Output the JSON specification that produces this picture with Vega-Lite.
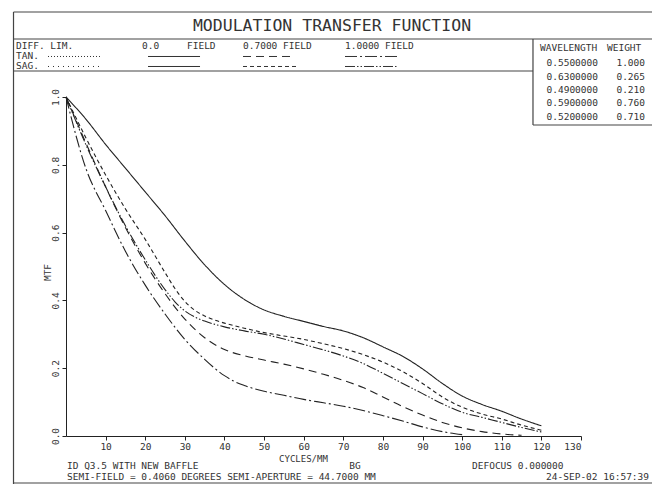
{
  "$schema": "https://vega.github.io/schema/vega-lite/v6.json",
  "width": 515,
  "height": 339,
  "autosize": {"type": "none"},
  "padding": {"left": 66, "top": 97, "right": 71, "bottom": 49},
  "background": "white",
  "config": {"view": {"stroke": null}, "font": "DejaVu Sans Mono"},
  "datasets": {
    "curves": [
      {"series": "0.0 FIELD", "f": 0, "mtf": 1.0}, {"series": "0.0 FIELD", "f": 5, "mtf": 0.935}, {"series": "0.0 FIELD", "f": 10, "mtf": 0.86}, {"series": "0.0 FIELD", "f": 15, "mtf": 0.79}, {"series": "0.0 FIELD", "f": 20, "mtf": 0.72}, {"series": "0.0 FIELD", "f": 25, "mtf": 0.65}, {"series": "0.0 FIELD", "f": 30, "mtf": 0.575}, {"series": "0.0 FIELD", "f": 35, "mtf": 0.505}, {"series": "0.0 FIELD", "f": 40, "mtf": 0.447}, {"series": "0.0 FIELD", "f": 45, "mtf": 0.403}, {"series": "0.0 FIELD", "f": 50, "mtf": 0.372}, {"series": "0.0 FIELD", "f": 55, "mtf": 0.353}, {"series": "0.0 FIELD", "f": 60, "mtf": 0.338}, {"series": "0.0 FIELD", "f": 65, "mtf": 0.323}, {"series": "0.0 FIELD", "f": 70, "mtf": 0.31}, {"series": "0.0 FIELD", "f": 75, "mtf": 0.29}, {"series": "0.0 FIELD", "f": 80, "mtf": 0.263}, {"series": "0.0 FIELD", "f": 85, "mtf": 0.235}, {"series": "0.0 FIELD", "f": 90, "mtf": 0.198}, {"series": "0.0 FIELD", "f": 95, "mtf": 0.155}, {"series": "0.0 FIELD", "f": 100, "mtf": 0.118}, {"series": "0.0 FIELD", "f": 105, "mtf": 0.093}, {"series": "0.0 FIELD", "f": 110, "mtf": 0.073}, {"series": "0.0 FIELD", "f": 115, "mtf": 0.05}, {"series": "0.0 FIELD", "f": 120, "mtf": 0.03},

      {"series": "0.7 SAG", "f": 0, "mtf": 1.0}, {"series": "0.7 SAG", "f": 5, "mtf": 0.88}, {"series": "0.7 SAG", "f": 10, "mtf": 0.77}, {"series": "0.7 SAG", "f": 15, "mtf": 0.67}, {"series": "0.7 SAG", "f": 20, "mtf": 0.58}, {"series": "0.7 SAG", "f": 25, "mtf": 0.482}, {"series": "0.7 SAG", "f": 27.5, "mtf": 0.435}, {"series": "0.7 SAG", "f": 30, "mtf": 0.397}, {"series": "0.7 SAG", "f": 32.5, "mtf": 0.371}, {"series": "0.7 SAG", "f": 35, "mtf": 0.354}, {"series": "0.7 SAG", "f": 37.5, "mtf": 0.342}, {"series": "0.7 SAG", "f": 40, "mtf": 0.333}, {"series": "0.7 SAG", "f": 45, "mtf": 0.318}, {"series": "0.7 SAG", "f": 50, "mtf": 0.305}, {"series": "0.7 SAG", "f": 55, "mtf": 0.295}, {"series": "0.7 SAG", "f": 60, "mtf": 0.285}, {"series": "0.7 SAG", "f": 65, "mtf": 0.272}, {"series": "0.7 SAG", "f": 70, "mtf": 0.258}, {"series": "0.7 SAG", "f": 75, "mtf": 0.24}, {"series": "0.7 SAG", "f": 80, "mtf": 0.218}, {"series": "0.7 SAG", "f": 85, "mtf": 0.19}, {"series": "0.7 SAG", "f": 90, "mtf": 0.155}, {"series": "0.7 SAG", "f": 95, "mtf": 0.115}, {"series": "0.7 SAG", "f": 100, "mtf": 0.085}, {"series": "0.7 SAG", "f": 105, "mtf": 0.065}, {"series": "0.7 SAG", "f": 110, "mtf": 0.05}, {"series": "0.7 SAG", "f": 115, "mtf": 0.032}, {"series": "0.7 SAG", "f": 120, "mtf": 0.017},

      {"series": "1.0 SAG", "f": 0, "mtf": 1.0}, {"series": "1.0 SAG", "f": 5, "mtf": 0.86}, {"series": "1.0 SAG", "f": 10, "mtf": 0.735}, {"series": "1.0 SAG", "f": 15, "mtf": 0.62}, {"series": "1.0 SAG", "f": 20, "mtf": 0.52}, {"series": "1.0 SAG", "f": 25, "mtf": 0.432}, {"series": "1.0 SAG", "f": 27.5, "mtf": 0.396}, {"series": "1.0 SAG", "f": 30, "mtf": 0.369}, {"series": "1.0 SAG", "f": 32.5, "mtf": 0.351}, {"series": "1.0 SAG", "f": 35, "mtf": 0.339}, {"series": "1.0 SAG", "f": 40, "mtf": 0.322}, {"series": "1.0 SAG", "f": 45, "mtf": 0.31}, {"series": "1.0 SAG", "f": 50, "mtf": 0.3}, {"series": "1.0 SAG", "f": 55, "mtf": 0.286}, {"series": "1.0 SAG", "f": 60, "mtf": 0.27}, {"series": "1.0 SAG", "f": 65, "mtf": 0.254}, {"series": "1.0 SAG", "f": 70, "mtf": 0.236}, {"series": "1.0 SAG", "f": 75, "mtf": 0.214}, {"series": "1.0 SAG", "f": 80, "mtf": 0.185}, {"series": "1.0 SAG", "f": 85, "mtf": 0.155}, {"series": "1.0 SAG", "f": 90, "mtf": 0.125}, {"series": "1.0 SAG", "f": 95, "mtf": 0.095}, {"series": "1.0 SAG", "f": 100, "mtf": 0.07}, {"series": "1.0 SAG", "f": 105, "mtf": 0.055}, {"series": "1.0 SAG", "f": 110, "mtf": 0.04}, {"series": "1.0 SAG", "f": 115, "mtf": 0.025}, {"series": "1.0 SAG", "f": 120, "mtf": 0.012},

      {"series": "0.7 TAN", "f": 0, "mtf": 1.0}, {"series": "0.7 TAN", "f": 5, "mtf": 0.865}, {"series": "0.7 TAN", "f": 10, "mtf": 0.735}, {"series": "0.7 TAN", "f": 15, "mtf": 0.615}, {"series": "0.7 TAN", "f": 20, "mtf": 0.51}, {"series": "0.7 TAN", "f": 25, "mtf": 0.42}, {"series": "0.7 TAN", "f": 30, "mtf": 0.345}, {"series": "0.7 TAN", "f": 35, "mtf": 0.29}, {"series": "0.7 TAN", "f": 40, "mtf": 0.255}, {"series": "0.7 TAN", "f": 45, "mtf": 0.237}, {"series": "0.7 TAN", "f": 50, "mtf": 0.224}, {"series": "0.7 TAN", "f": 55, "mtf": 0.212}, {"series": "0.7 TAN", "f": 60, "mtf": 0.198}, {"series": "0.7 TAN", "f": 65, "mtf": 0.182}, {"series": "0.7 TAN", "f": 70, "mtf": 0.164}, {"series": "0.7 TAN", "f": 75, "mtf": 0.143}, {"series": "0.7 TAN", "f": 80, "mtf": 0.115}, {"series": "0.7 TAN", "f": 85, "mtf": 0.087}, {"series": "0.7 TAN", "f": 90, "mtf": 0.062}, {"series": "0.7 TAN", "f": 95, "mtf": 0.04}, {"series": "0.7 TAN", "f": 100, "mtf": 0.024}, {"series": "0.7 TAN", "f": 105, "mtf": 0.013}, {"series": "0.7 TAN", "f": 110, "mtf": 0.006}, {"series": "0.7 TAN", "f": 115, "mtf": 0.002},

      {"series": "1.0 TAN", "f": 0, "mtf": 1.0}, {"series": "1.0 TAN", "f": 5, "mtf": 0.79}, {"series": "1.0 TAN", "f": 10, "mtf": 0.665}, {"series": "1.0 TAN", "f": 15, "mtf": 0.545}, {"series": "1.0 TAN", "f": 20, "mtf": 0.445}, {"series": "1.0 TAN", "f": 25, "mtf": 0.36}, {"series": "1.0 TAN", "f": 30, "mtf": 0.285}, {"series": "1.0 TAN", "f": 35, "mtf": 0.226}, {"series": "1.0 TAN", "f": 37.5, "mtf": 0.2}, {"series": "1.0 TAN", "f": 40, "mtf": 0.178}, {"series": "1.0 TAN", "f": 42.5, "mtf": 0.161}, {"series": "1.0 TAN", "f": 45, "mtf": 0.149}, {"series": "1.0 TAN", "f": 50, "mtf": 0.132}, {"series": "1.0 TAN", "f": 55, "mtf": 0.12}, {"series": "1.0 TAN", "f": 60, "mtf": 0.108}, {"series": "1.0 TAN", "f": 65, "mtf": 0.098}, {"series": "1.0 TAN", "f": 70, "mtf": 0.088}, {"series": "1.0 TAN", "f": 75, "mtf": 0.075}, {"series": "1.0 TAN", "f": 80, "mtf": 0.06}, {"series": "1.0 TAN", "f": 85, "mtf": 0.044}, {"series": "1.0 TAN", "f": 90, "mtf": 0.027}, {"series": "1.0 TAN", "f": 95, "mtf": 0.013}, {"series": "1.0 TAN", "f": 100, "mtf": 0.004}
    ],
    "frame": [
      {"x1": -13.25, "x2": 148.2, "y1": 1.2507, "y2": 1.2507},
      {"x1": -13.25, "x2": -13.25, "y1": 1.2507, "y2": -0.1416},
      {"x1": -13.25, "x2": 148.2, "y1": 1.1711, "y2": 1.1711},
      {"x1": -13.25, "x2": 117.88, "y1": 1.0767, "y2": 1.0767},
      {"x1": 117.88, "x2": 117.88, "y1": 1.1711, "y2": 0.9174},
      {"x1": 117.88, "x2": 148.2, "y1": 0.9174, "y2": 0.9174},
      {"x1": -13.25, "x2": 148.2, "y1": -0.1386, "y2": -0.1386}
    ],
    "legend": [
      {"series": "TAN DOT", "x1": -4.54, "x2": 8.58, "y": 1.1195},
      {"series": "0.0 FIELD", "x1": 20.7, "x2": 33.83, "y": 1.1195},
      {"series": "0.7 TAN", "x1": 44.68, "x2": 57.3, "y": 1.1195},
      {"series": "1.0 TAN", "x1": 70.43, "x2": 83.81, "y": 1.1195},
      {"series": "SAG DOT", "x1": -4.54, "x2": 8.58, "y": 1.09},
      {"series": "0.0 FIELD", "x1": 20.7, "x2": 33.83, "y": 1.09},
      {"series": "0.7 SAG", "x1": 44.68, "x2": 58.56, "y": 1.09},
      {"series": "1.0 SAG", "x1": 70.43, "x2": 83.81, "y": 1.09}
    ],
    "labels": [
      {"group": "title", "text": "MODULATION TRANSFER FUNCTION", "x": 67.15, "y": 1.2094},
      {"group": "header", "text": "DIFF. LIM.", "x": -12.62, "y": 1.149},
      {"group": "header", "text": "TAN.", "x": -12.62, "y": 1.1195},
      {"group": "header", "text": "SAG.", "x": -12.62, "y": 1.09},
      {"group": "header", "text": "0.0", "x": 19.18, "y": 1.149},
      {"group": "header", "text": "FIELD", "x": 30.54, "y": 1.149},
      {"group": "header", "text": "0.7000 FIELD", "x": 44.68, "y": 1.149},
      {"group": "header", "text": "1.0000 FIELD", "x": 70.43, "y": 1.149},
      {"group": "left", "text": "WAVELENGTH", "x": 119.65, "y": 1.1445},
      {"group": "left", "text": "WEIGHT", "x": 136.56, "y": 1.1445},
      {"group": "right", "text": "0.5500000", "x": 134.29, "y": 1.1003},
      {"group": "right", "text": "0.6300000", "x": 134.29, "y": 1.059},
      {"group": "right", "text": "0.4900000", "x": 134.29, "y": 1.0206},
      {"group": "right", "text": "0.5900000", "x": 134.29, "y": 0.9823},
      {"group": "right", "text": "0.5200000", "x": 134.29, "y": 0.941},
      {"group": "right", "text": "1.000", "x": 146.16, "y": 1.1003},
      {"group": "right", "text": "0.265", "x": 146.16, "y": 1.059},
      {"group": "right", "text": "0.210", "x": 146.16, "y": 1.0206},
      {"group": "right", "text": "0.760", "x": 146.16, "y": 0.9823},
      {"group": "right", "text": "0.710", "x": 146.16, "y": 0.941},
      {"group": "left", "text": "ID Q3.5 WITH NEW BAFFLE", "x": 0.25, "y": -0.0885},
      {"group": "left", "text": "SEMI-FIELD =  0.4060 DEGREES  SEMI-APERTURE =  44.7000 MM", "x": 0.25, "y": -0.1209},
      {"group": "left", "text": "DEFOCUS  0.000000", "x": 102.49, "y": -0.0885},
      {"group": "center", "text": "BG", "x": 72.95, "y": -0.0885},
      {"group": "right", "text": "24-SEP-02  16:57:39", "x": 147.17, "y": -0.1209}
    ]
  },
  "layer": [
    {
      "data": {"name": "curves"},
      "mark": {"type": "line", "color": "#222", "strokeWidth": 1.1, "interpolate": "monotone"},
      "encoding": {
        "x": {
          "field": "f", "type": "quantitative",
          "scale": {"domain": [0, 130], "nice": false, "zero": false},
          "axis": {
            "values": [10, 20, 30, 40, 50, 60, 70, 80, 90, 100, 110, 120, 130],
            "grid": false, "tickSize": 4, "tickColor": "#222", "domainColor": "#222",
            "labelFont": "DejaVu Sans Mono", "labelFontSize": 9.5, "labelColor": "#333", "labelPadding": 1,
            "title": "CYCLES/MM", "titleFont": "DejaVu Sans Mono", "titleFontSize": 9, "titleFontWeight": "normal", "titleColor": "#333",
            "titleX": 237, "titleY": 22, "titleBaseline": "middle", "titleAlign": "center"
          }
        },
        "y": {
          "field": "mtf", "type": "quantitative",
          "scale": {"domain": [0, 1], "nice": false},
          "axis": {
            "values": [0, 0.2, 0.4, 0.6, 0.8, 1.0], "format": ".1f",
            "grid": false, "tickSize": 4, "tickColor": "#222", "domainColor": "#222",
            "labelFont": "DejaVu Sans Mono", "labelFontSize": 9.5, "labelColor": "#333", "labelPadding": 2,
            "labelAngle": 270, "labelAlign": "center", "labelBaseline": "bottom",
            "title": "MTF", "titleFont": "DejaVu Sans Mono", "titleFontSize": 9.5, "titleFontWeight": "normal", "titleColor": "#333",
            "titleX": -19, "titleY": 175, "titleAngle": 270, "titleAlign": "center", "titleBaseline": "middle"
          }
        },
        "detail": {"field": "series"},
        "strokeDash": {
          "field": "series", "type": "nominal", "legend": null,
          "scale": {
            "domain": ["0.0 FIELD", "0.7 SAG", "1.0 SAG", "0.7 TAN", "1.0 TAN", "TAN DOT", "SAG DOT"],
            "range": [[1, 0], [4, 3], [10, 2, 1.5, 2, 1.5, 2], [8, 5], [12, 3, 2, 3], [1, 2], [1, 4]]
          }
        }
      }
    },
    {
      "data": {"name": "frame"},
      "mark": {"type": "rule", "color": "#444", "strokeWidth": 1.2},
      "encoding": {
        "x": {"field": "x1", "type": "quantitative"},
        "x2": {"field": "x2"},
        "y": {"field": "y1", "type": "quantitative"},
        "y2": {"field": "y2"}
      }
    },
    {
      "data": {"name": "legend"},
      "mark": {"type": "rule", "color": "#333", "strokeWidth": 1},
      "encoding": {
        "x": {"field": "x1", "type": "quantitative"},
        "x2": {"field": "x2"},
        "y": {"field": "y", "type": "quantitative"},
        "strokeDash": {"field": "series", "type": "nominal", "legend": null}
      }
    },
    {
      "data": {"name": "labels"},
      "transform": [{"filter": "datum.group == 'title'"}],
      "mark": {"type": "text", "align": "center", "baseline": "middle", "fontSize": 16.5, "font": "DejaVu Sans Mono", "color": "#333"},
      "encoding": {
        "x": {"field": "x", "type": "quantitative"},
        "y": {"field": "y", "type": "quantitative"},
        "text": {"field": "text"}
      }
    },
    {
      "data": {"name": "labels"},
      "transform": [{"filter": "datum.group == 'header'"}],
      "mark": {"type": "text", "align": "left", "baseline": "middle", "fontSize": 9.5, "font": "DejaVu Sans Mono", "color": "#333"},
      "encoding": {
        "x": {"field": "x", "type": "quantitative"},
        "y": {"field": "y", "type": "quantitative"},
        "text": {"field": "text"}
      }
    },
    {
      "data": {"name": "labels"},
      "transform": [{"filter": "datum.group == 'left'"}],
      "mark": {"type": "text", "align": "left", "baseline": "middle", "fontSize": 9.5, "font": "DejaVu Sans Mono", "color": "#333"},
      "encoding": {
        "x": {"field": "x", "type": "quantitative"},
        "y": {"field": "y", "type": "quantitative"},
        "text": {"field": "text"}
      }
    },
    {
      "data": {"name": "labels"},
      "transform": [{"filter": "datum.group == 'right'"}],
      "mark": {"type": "text", "align": "right", "baseline": "middle", "fontSize": 9.5, "font": "DejaVu Sans Mono", "color": "#333"},
      "encoding": {
        "x": {"field": "x", "type": "quantitative"},
        "y": {"field": "y", "type": "quantitative"},
        "text": {"field": "text"}
      }
    },
    {
      "data": {"name": "labels"},
      "transform": [{"filter": "datum.group == 'center'"}],
      "mark": {"type": "text", "align": "center", "baseline": "middle", "fontSize": 9.5, "font": "DejaVu Sans Mono", "color": "#333"},
      "encoding": {
        "x": {"field": "x", "type": "quantitative"},
        "y": {"field": "y", "type": "quantitative"},
        "text": {"field": "text"}
      }
    }
  ]
}
